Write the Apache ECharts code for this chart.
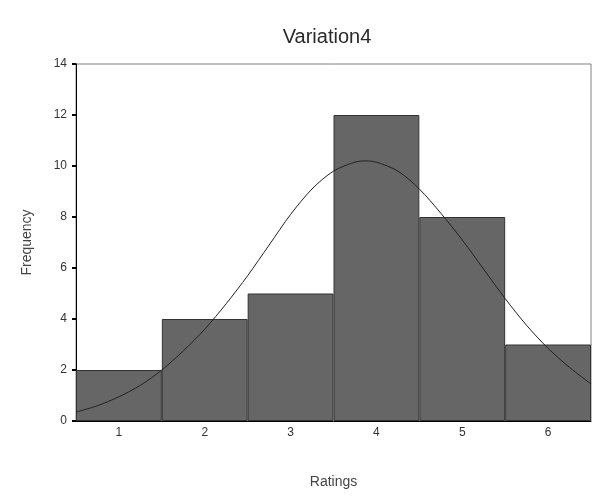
<!DOCTYPE html>
<html>
<head>
<meta charset="utf-8">
<script src="https://cdn.jsdelivr.net/npm/echarts@6/dist/echarts.min.js"></script>
<style>
html,body{margin:0;padding:0;background:#fff;}
#c{width:597px;height:498px;}
</style>
</head>
<body>
<div id="c"></div>
<script>
var categories = ['1', '2', '3', '4', '5', '6'];
var frequencies = [2, 4, 5, 12, 8, 3];
var yTicks = [0, 2, 4, 6, 8, 10, 12, 14];
var curveX = [0.5, 0.75, 1, 1.25, 1.5, 1.75, 2, 2.25, 2.5, 2.75, 3, 3.25, 3.5, 3.75, 3.875, 4, 4.25, 4.5, 4.75, 5, 5.25, 5.5, 5.75, 6, 6.25, 6.5];
var curveY = [0.35, 0.6, 0.95, 1.4, 2.0, 2.75, 3.6, 4.6, 5.7, 6.9, 8.1, 9.1, 9.8, 10.15, 10.2, 10.15, 9.8, 9.1, 8.15, 7.1, 5.95, 4.8, 3.75, 2.85, 2.1, 1.45];

var curveData = curveX.map(function (x, i) { return [x, curveY[i]]; });
var font = 'Arial, "Liberation Sans", sans-serif';

var chart = echarts.init(document.getElementById('c'), null, {renderer: 'canvas'});
chart.setOption({
  backgroundColor: '#ffffff',
  animation: false,
  title: {
    text: 'Variation4',
    left: 322, top: 22, textAlign: 'center',
    textStyle: {fontFamily: font, fontSize: 20, fontWeight: 'normal', color: '#2a2a2a'}
  },
  grid: {
    left: 76, right: 6, top: 64, bottom: 77,
    show: true, borderColor: '#808080', borderWidth: 1, backgroundColor: 'transparent'
  },
  xAxis: [{
    type: 'category',
    data: categories,
    boundaryGap: true,
    name: 'Ratings',
    nameLocation: 'middle',
    nameGap: 54,
    nameTextStyle: {fontFamily: font, fontSize: 14, color: '#444'},
    axisLine: {lineStyle: {color: '#000', width: 1}},
    axisTick: {alignWithLabel: true, length: 4, lineStyle: {color: '#000', width: 2}},
    axisLabel: {fontFamily: font, fontSize: 12, color: '#333', margin: 6},
    splitLine: {show: false}
  }, {
    type: 'value',
    min: 0.5, max: 6.5,
    show: false
  }],
  yAxis: {
    type: 'value',
    min: 0, max: 14, interval: 2,
    name: 'Frequency',
    nameLocation: 'middle',
    nameGap: 42,
    nameTextStyle: {fontFamily: font, fontSize: 14, color: '#444'},
    axisLine: {show: true, lineStyle: {color: '#000', width: 1}},
    axisTick: {show: true, length: 4, lineStyle: {color: '#000', width: 2}},
    axisLabel: {fontFamily: font, fontSize: 12, color: '#333', margin: 9},
    splitLine: {show: false}
  },
  series: [{
    type: 'bar',
    xAxisIndex: 0,
    data: frequencies,
    barWidth: '100%',
    barCategoryGap: '0%',
    itemStyle: {color: '#666666', borderColor: '#333333', borderWidth: 1}
  }, {
    type: 'line',
    xAxisIndex: 1,
    data: curveData,
    smooth: 0.3,
    symbol: 'none',
    lineStyle: {color: '#222', width: 1},
    z: 5
  }]
});
</script>
</body>
</html>
